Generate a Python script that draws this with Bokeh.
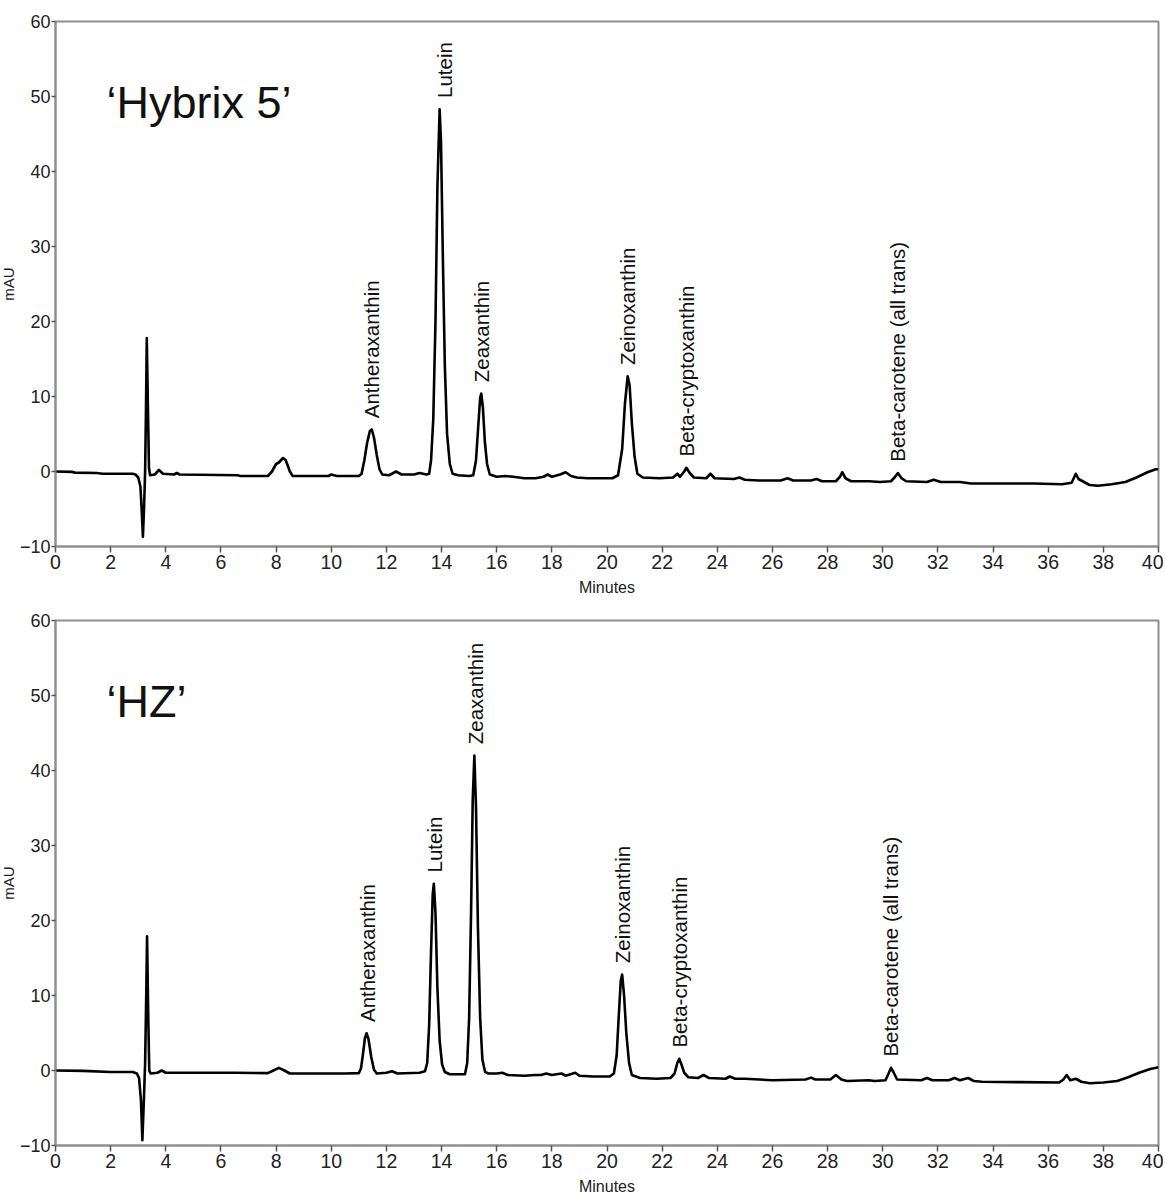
import math
from bokeh.plotting import figure
from bokeh.layouts import column, row
from bokeh.models import FixedTicker, Range1d, Label, ColumnDataSource
from bokeh.core.properties import value
from bokeh.embed import file_html
from bokeh.resources import INLINE

# ---------------- data ----------------
X_TICKS = list(range(0, 41, 2))
Y_TICKS = [-10, 0, 10, 20, 30, 40, 50, 60]
Y_TITLE = "mAU"
X_TITLE = "Minutes"

SAMPLE_TOP = "\u2018Hybrix 5\u2019"
SAMPLE_BOT = "\u2018HZ\u2019"

# chromatogram 'Hybrix 5' (minutes, mAU)
TOP_T = [0.0, 0.6, 0.7, 1.5, 1.7, 2.8, 2.9, 3.0, 3.08, 3.13, 3.17, 3.21, 3.25, 3.28, 3.31, 3.35,
         3.39, 3.43, 3.6, 3.75, 3.9, 4.3, 4.4, 4.5, 6.6, 6.7, 7.7, 7.85, 8.0, 8.1, 8.25, 8.35,
         8.5, 8.6, 9.9, 10.0, 10.2, 11.0, 11.1, 11.2, 11.3, 11.4, 11.47, 11.55, 11.65, 11.75,
         11.85, 12.1, 12.35, 12.55, 13.0, 13.2, 13.45, 13.55, 13.62, 13.7, 13.78, 13.85, 13.93,
         13.98, 14.05, 14.12, 14.2, 14.3, 14.4, 14.6, 15.0, 15.15, 15.25, 15.33, 15.4, 15.44,
         15.5, 15.57, 15.65, 15.75, 16.0, 16.3, 16.6, 17.0, 17.4, 17.7, 17.85, 18.0, 18.3, 18.5,
         18.7, 18.9, 19.3, 20.2, 20.4, 20.55, 20.65, 20.75, 20.82, 20.9, 21.0, 21.1, 21.3, 21.9,
         22.4, 22.55, 22.65, 22.8, 22.88, 23.0, 23.15, 23.6, 23.75, 23.9, 24.6, 24.8, 25.0, 25.5,
         26.3, 26.55, 26.75, 27.4, 27.6, 27.8, 28.3, 28.45, 28.53, 28.65, 28.85, 29.5, 29.9,
         30.3, 30.45, 30.55, 30.68, 30.85, 31.6, 31.85, 32.1, 32.8, 33.2, 34.5, 35.5, 36.5,
         36.85, 36.95, 37.0, 37.1, 37.25, 37.5, 37.8, 38.3, 38.8, 39.2, 39.6, 39.9, 40.0]
TOP_MAU = [0.0, -0.05, -0.15, -0.2, -0.3, -0.3, -0.4, -0.8, -2.0, -5.5, -8.7, -5.0, 0.0, 8.0, 17.8, 9.0,
           0.5, -0.5, -0.4, 0.2, -0.3, -0.4, -0.2, -0.4, -0.5, -0.6, -0.6, 0.0, 1.0, 1.2, 1.8, 1.5,
           0.0, -0.6, -0.6, -0.4, -0.6, -0.6, -0.3, 1.5, 3.8, 5.4, 5.6, 4.5, 2.2, 0.3,
           -0.4, -0.5, 0.0, -0.4, -0.4, -0.2, -0.4, -0.3, 1.5, 7.0, 20.0, 38.0, 48.3,
           44.0, 28.0, 14.0, 5.0, 1.0, -0.3, -0.5, -0.6, -0.5, 1.5, 6.0, 9.8, 10.4,
           8.5, 4.0, 1.0, -0.4, -0.7, -0.6, -0.7, -0.9, -0.9, -0.7, -0.4, -0.7, -0.4, -0.1,
           -0.6, -0.8, -0.9, -0.9, -0.5, 3.0, 9.0, 12.7, 11.5, 6.5, 2.0, -0.3, -0.8, -0.9,
           -0.8, -0.3, -0.7, 0.0, 0.5, -0.2, -0.8, -0.9, -0.3, -0.9, -1.0, -0.8, -1.1, -1.2,
           -1.2, -0.9, -1.2, -1.2, -1.0, -1.3, -1.3, -0.7, -0.1, -0.9, -1.3, -1.3, -1.4,
           -1.3, -0.7, -0.2, -0.9, -1.3, -1.4, -1.1, -1.4, -1.4, -1.6, -1.6, -1.6, -1.7,
           -1.5, -0.7, -0.3, -1.0, -1.3, -1.8, -1.9, -1.7, -1.4, -0.8, -0.1, 0.3, 0.3]

# chromatogram 'HZ' (minutes, mAU)
BOT_T = [0.0, 1.0, 2.0, 2.8, 2.95, 3.03, 3.1, 3.15, 3.2, 3.25, 3.29, 3.32, 3.36, 3.4, 3.45, 3.7,
         3.85, 4.0, 6.0, 6.5, 7.7, 7.9, 8.1, 8.3, 8.5, 10.5, 11.0, 11.08, 11.15, 11.22, 11.28,
         11.35, 11.45, 11.55, 11.65, 12.0, 12.2, 12.4, 13.2, 13.4, 13.48, 13.55, 13.62, 13.68,
         13.72, 13.78, 13.85, 13.93, 14.02, 14.12, 14.3, 14.85, 14.93, 15.0, 15.07, 15.13, 15.19,
         15.25, 15.32, 15.4, 15.48, 15.58, 15.7, 16.0, 16.2, 16.4, 17.0, 17.4, 17.6, 17.8, 18.0,
         18.35, 18.5, 18.85, 19.0, 19.5, 20.1, 20.25, 20.35, 20.43, 20.5, 20.55, 20.62, 20.7,
         20.8, 20.9, 21.2, 21.8, 22.3, 22.45, 22.55, 22.62, 22.7, 22.8, 22.95, 23.3, 23.5, 23.7,
         24.3, 24.45, 24.65, 25.0, 26.0, 27.2, 27.4, 27.55, 28.1, 28.3, 28.5, 28.7, 29.5, 29.7,
         30.1, 30.2, 30.3, 30.4, 30.52, 31.4, 31.6, 31.8, 32.4, 32.6, 32.8, 33.1, 33.3, 33.6,
         35.0, 36.4, 36.55, 36.67, 36.8, 37.0, 37.2, 37.5, 38.0, 38.5, 38.9, 39.3, 39.7, 40.0]
BOT_MAU = [0.0, -0.05, -0.2, -0.2, -0.4, -1.0, -4.0, -9.3, -4.5, 1.0, 10.0, 17.9, 8.0, 0.0, -0.4, -0.3,
           0.0, -0.3, -0.3, -0.3, -0.35, 0.0, 0.35, 0.0, -0.4, -0.4, -0.35, 0.3, 2.2, 4.3, 4.97,
           4.2, 1.8, 0.1, -0.4, -0.3, -0.1, -0.4, -0.3, -0.1, 1.0, 6.0, 16.0, 23.5,
           24.9, 21.0, 11.0, 4.0, 0.8, -0.2, -0.5, -0.5, 1.0, 7.0, 21.0, 36.0, 42.0,
           35.0, 19.0, 7.0, 1.5, -0.2, -0.4, -0.4, -0.3, -0.6, -0.7, -0.6, -0.6, -0.4, -0.6,
           -0.4, -0.7, -0.3, -0.7, -0.8, -0.8, -0.4, 2.0, 7.5, 12.0, 12.8, 10.0, 5.0,
           1.0, -0.6, -1.0, -1.1, -1.0, -0.4, 1.0, 1.56, 0.8, -0.3, -0.9, -1.0, -0.6, -1.0,
           -1.1, -0.8, -1.1, -1.1, -1.3, -1.2, -0.95, -1.2, -1.2, -0.6, -1.2, -1.4, -1.3, -1.4,
           -1.3, -0.5, 0.36, -0.3, -1.2, -1.3, -1.0, -1.3, -1.3, -1.0, -1.3, -1.0, -1.4, -1.5,
           -1.55, -1.6, -1.2, -0.6, -1.3, -1.1, -1.5, -1.7, -1.6, -1.4, -0.9, -0.3, 0.2, 0.44]

# identified peaks: name, retention time (min), apex (mAU)
PEAK_NAMES = ["Antheraxanthin", "Lutein", "Zeaxanthin", "Zeinoxanthin",
              "Beta-cryptoxanthin", "Beta-carotene (all trans)"]
PEAK_RT_TOP = [11.45, 14.12, 15.45, 20.76, 22.88, 30.55]
PEAK_H_TOP = [5.6, 48.3, 10.4, 12.7, 0.5, -0.2]
PEAK_RT_BOT = [11.3, 13.74, 15.22, 20.56, 22.62, 30.28]
PEAK_H_BOT = [4.97, 24.9, 42.0, 12.8, 1.56, 0.36]

FONT = "Liberation Sans"
GRAY = "#8f8f8f"
Y_MIN, Y_MAX = -10, 60


def make_ytitle(top_border):
    # narrow strip holding the rotated y-axis title, aligned with the panel frame
    f = figure(frame_width=16, frame_height=525, output_backend="svg", toolbar_location=None,
               x_range=Range1d(0, 1), y_range=Range1d(Y_MIN, Y_MAX),
               x_axis_type=None, y_axis_type=None,
               min_border_left=0, min_border_right=0, min_border_top=top_border,
               min_border_bottom=20, background_fill_color="white", border_fill_color="white")
    f.grid.visible = False
    f.outline_line_color = None
    f.text(x=[0.5], y=[(Y_MIN + Y_MAX) / 2], text=[Y_TITLE], angle=math.pi / 2,
           text_align="center", text_baseline="middle", text_font=value(FONT),
           text_font_size="15px", text_color="#222222")
    return f


def make_panel(t, mau, rts, hs, sample, top_border):
    p = figure(frame_width=1103, frame_height=525, output_backend="svg", toolbar_location=None,
               x_range=Range1d(0, 40), y_range=Range1d(Y_MIN, Y_MAX),
               min_border_left=36, min_border_right=5, min_border_top=top_border,
               min_border_bottom=10, background_fill_color="white", border_fill_color="white")
    p.grid.visible = False
    p.outline_line_color = GRAY
    p.outline_line_width = 2

    p.line(t, mau, line_color="black", line_width=2.6, line_join="round")

    src = ColumnDataSource(dict(x=rts, y=[h + 1.5 for h in hs], name=PEAK_NAMES))
    p.text(x="x", y="y", text="name", source=src, angle=math.pi / 2,
           text_align="left", text_baseline="middle", text_font=value(FONT),
           text_font_size="20.5px", text_color="#111111")

    p.add_layout(Label(x=1.85, y=49.2, text=sample, text_font=FONT, text_font_size="45px",
                       text_color="#111111", text_baseline="alphabetic", text_align="left"))

    for ax in (p.xaxis[0], p.yaxis[0]):
        ax.axis_line_color = GRAY
        ax.axis_line_width = 2
        ax.major_tick_line_color = "#555555"
        ax.major_tick_line_width = 1.5
        ax.minor_tick_line_color = None
        ax.major_label_text_font = FONT
        ax.major_label_text_font_size = "18px"
        ax.major_label_text_color = "#222222"
        ax.axis_label_text_font = FONT
        ax.axis_label_text_font_style = "normal"
        ax.axis_label_text_color = "#222222"

    p.xaxis.major_label_text_font_size = "19.5px"
    p.xaxis.ticker = FixedTicker(ticks=X_TICKS)
    p.yaxis.ticker = FixedTicker(ticks=Y_TICKS)
    p.xaxis.major_tick_out = 6
    p.xaxis.major_tick_in = 0
    p.yaxis.major_tick_out = 4
    p.yaxis.major_tick_in = 0
    p.xaxis.major_label_standoff = 2
    p.yaxis.major_label_standoff = 1
    p.xaxis.axis_label = X_TITLE
    p.xaxis.axis_label_text_font_size = "16px"
    p.xaxis.axis_label_standoff = 7
    return p


p1 = make_panel(TOP_T, TOP_MAU, PEAK_RT_TOP, PEAK_H_TOP, SAMPLE_TOP, 21)
p2 = make_panel(BOT_T, BOT_MAU, PEAK_RT_BOT, PEAK_H_BOT, SAMPLE_BOT, 22)
t1 = make_ytitle(21)
t2 = make_ytitle(22)

layout = column(row(t1, p1, spacing=0), row(t2, p2, spacing=0), spacing=0)
open("out.html", "w").write(file_html(layout, INLINE))
